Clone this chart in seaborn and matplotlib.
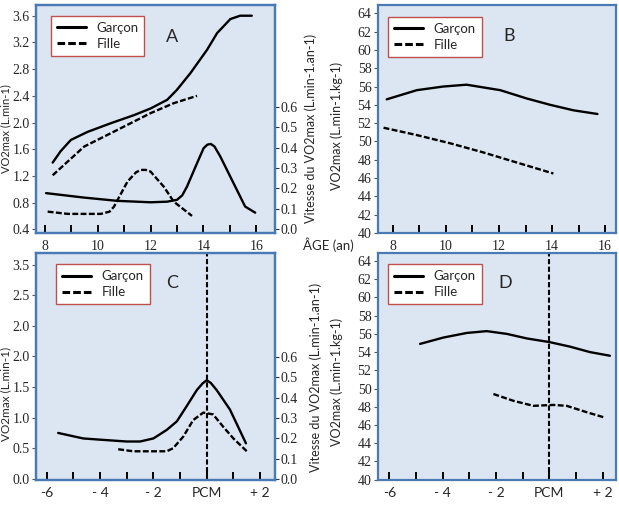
import matplotlib
matplotlib.use("Agg")
import matplotlib.pyplot as plt
import pandas as pd
import seaborn as sns

# A: VO2max absolu (L.min-1) et vitesse selon l'age
a_age_g = [8.3, 8.6, 8.99, 9.62, 10.5, 11.37, 12.0, 12.63, 13.0, 13.51, 14.14, 14.52, 15.02, 15.39, 15.83]
a_vo2_g = [1.40, 1.57, 1.74, 1.86, 1.99, 2.11, 2.21, 2.34, 2.49, 2.74, 3.09, 3.34, 3.55, 3.60, 3.60]
a_age_f = [8.3, 9.49, 10.75, 12.0, 12.88, 13.76]
a_vo2_f = [1.21, 1.64, 1.89, 2.14, 2.29, 2.40]
a_vage_g = [8.05, 9.49, 10.75, 12.0, 12.63, 13.0, 13.2, 13.38, 13.76, 14.01, 14.15, 14.28, 14.42, 14.64, 15.14, 15.58, 15.96]
a_vit_g = [0.176, 0.154, 0.138, 0.131, 0.134, 0.143, 0.165, 0.208, 0.323, 0.397, 0.414, 0.418, 0.405, 0.356, 0.225, 0.11, 0.08]
a_vage_f = [8.11, 8.87, 10.12, 10.45, 10.62, 11.13, 11.45, 11.63, 11.82, 12.0, 12.5, 12.88, 13.57]
a_vit_f = [0.085, 0.074, 0.074, 0.085, 0.11, 0.233, 0.278, 0.29, 0.29, 0.282, 0.208, 0.134, 0.064]

# B: VO2max relatif (L.min-1.kg-1) selon l'age
b_age_g = [7.77, 8.9, 9.9, 10.78, 12.05, 13.04, 13.93, 14.81, 15.71]
b_vo2_g = [54.6, 55.6, 56.0, 56.2, 55.6, 54.7, 54.0, 53.4, 53.0]
b_age_f = [7.65, 8.9, 10.16, 11.41, 12.67, 14.05]
b_vo2_f = [51.5, 50.7, 49.8, 48.8, 47.7, 46.5]

# C: vitesse du VO2max selon le pic de croissance (PCM)
c_t_g = [-5.57, -4.63, -4.0, -3.0, -2.5, -2.0, -1.5, -1.12, -0.76, -0.37, -0.15, 0.0, 0.15, 0.37, 0.87, 1.47]
c_vit_g = [0.226, 0.199, 0.193, 0.184, 0.184, 0.199, 0.241, 0.283, 0.356, 0.437, 0.470, 0.485, 0.472, 0.437, 0.341, 0.175]
c_t_f = [-3.32, -2.76, -1.5, -1.26, -0.88, -0.51, -0.13, 0.24, 0.62, 1.0, 1.55]
c_vit_f = [0.146, 0.136, 0.136, 0.151, 0.208, 0.289, 0.326, 0.317, 0.256, 0.199, 0.130]

# D: VO2max relatif selon le PCM
d_t_g = [-4.85, -3.97, -3.1, -2.35, -1.6, -0.85, 0.0, 0.77, 1.52, 2.27]
d_vo2_g = [54.9, 55.6, 56.1, 56.3, 56.0, 55.5, 55.1, 54.6, 54.0, 53.6]
d_t_f = [-2.1, -1.35, -0.6, 0.15, 0.65, 1.4, 2.09]
d_vo2_f = [49.4, 48.65, 48.1, 48.2, 48.1, 47.4, 46.8]

age_ticks = [8, 10, 12, 14, 16]
pcm_ticks = [-6, -4, -2, 0, 2]
pcm_labels = ["-6", "- 4", "- 2", "PCM", "+ 2"]
a_yticks = [0.4, 0.8, 1.2, 1.6, 2.0, 2.4, 2.8, 3.2, 3.6]
c_yticks = [0.0, 0.5, 1.0, 1.5, 2.0, 2.5, 3.0, 3.5]
c_ylabels = ["0.0", "0.5", "1.0", "1.5", "2.0", "2.0", "2.5", "3.5"]  # as printed
vit_ticks = [0.0, 0.1, 0.2, 0.3, 0.4, 0.5, 0.6]
kg_ticks = list(range(40, 65, 2))

FACE = "#dce6f2"
SPINE = "#4a7ab4"
SANS = "Lato"
DASH = (0, (2.5, 1.0))

sns.set_theme(style="ticks")
plt.rcParams["font.family"] = ["Liberation Serif", "DejaVu Serif"]

fig = plt.figure(figsize=(6.19, 5.09), dpi=100)
ax_a = fig.add_axes([0.0582, 0.5422, 0.3861, 0.4479])
ax_b = fig.add_axes([0.6102, 0.5422, 0.3850, 0.4479])
ax_c = fig.add_axes([0.0582, 0.0570, 0.3861, 0.4460])
ax_d = fig.add_axes([0.6102, 0.0570, 0.3850, 0.4460])


def box(ax):
    ax.set_facecolor(FACE)
    for s in ax.spines.values():
        s.set_visible(True)
        s.set_color(SPINE)
        s.set_linewidth(1.6)
    ax.tick_params(axis="x", which="both", direction="in", length=6, width=1.4,
                   color="black", pad=5, labelsize=10)
    ax.tick_params(axis="y", direction="out", length=3, width=0.8,
                   color="#555555", pad=1.5, labelsize=10)


def curve(ax, x, y, label=None, dashed=False):
    df = pd.DataFrame({"x": x, "y": y})
    sns.lineplot(data=df, x="x", y="y", ax=ax, color="black", lw=1.7,
                 linestyle=DASH if dashed else "-", sort=False,
                 estimator=None, label=label, legend=False)


def legend(ax, x0, y0):
    leg = ax.legend(loc="upper left", bbox_to_anchor=(x0, y0), borderaxespad=0,
                    fancybox=False, framealpha=1, facecolor="white",
                    edgecolor="#c0504d", prop={"family": SANS, "size": 9.5},
                    handlelength=2.2, handletextpad=0.8, borderpad=0.45,
                    labelspacing=0.3)
    leg.get_frame().set_linewidth(1.0)
    for h in leg.get_lines():
        h.set_linewidth(2.2)


def vitesse_axis(ax, ylim):
    tw = ax.twinx()
    tw.set_ylim(*ylim)
    tw.set_yticks(vit_ticks)
    tw.set_yticklabels([f"{v:.1f}" for v in vit_ticks])
    tw.tick_params(axis="y", direction="out", length=3, width=0.8,
                   color="#333333", pad=1, labelsize=10)
    for s in tw.spines.values():
        s.set_color(SPINE)
        s.set_linewidth(1.6)
    tw.set_ylabel("Vitesse du VO2max (L.min-1.an-1)", family=SANS, fontsize=9)
    tw.yaxis.set_label_coords(1.125, 0.46)
    tw.grid(False)
    return tw


# ---- A
box(ax_a)
curve(ax_a, a_age_g, a_vo2_g, "Garçon")
curve(ax_a, a_age_f, a_vo2_f, "Fille", dashed=True)
ax_a.set_xlim(7.67, 16.71)
ax_a.set_ylim(0.345, 3.76)
ax_a.set_xticks(age_ticks)
ax_a.set_xticks(range(9, 17, 2), minor=True)
ax_a.set_yticks(a_yticks)
ax_a.set_yticklabels([f"{v:.1f}" for v in a_yticks])
ax_a.set_xlabel("")
ax_a.set_ylabel("VO2max (L.min-1)", family=SANS, fontsize=8)
ax_a.yaxis.set_label_coords(-0.105, 0.46)
legend(ax_a, 0.062, 0.953)
ax_a.text(0.568, 0.86, "A", transform=ax_a.transAxes, family=SANS,
          fontsize=13, ha="center", va="center")
tw_a = vitesse_axis(ax_a, (-0.02, 1.10))
curve(tw_a, a_vage_g, a_vit_g)
curve(tw_a, a_vage_f, a_vit_f, dashed=True)
tw_a.set_xlabel("")

# ---- B
box(ax_b)
curve(ax_b, b_age_g, b_vo2_g, "Garçon")
curve(ax_b, b_age_f, b_vo2_f, "Fille", dashed=True)
ax_b.set_xlim(7.43, 16.41)
ax_b.set_ylim(40, 64.9)
ax_b.set_xticks(age_ticks)
ax_b.set_xticks(range(9, 17, 2), minor=True)
ax_b.set_yticks(kg_ticks)
ax_b.set_xlabel("")
ax_b.set_ylabel("VO2max (L.min-1.kg-1)", family=SANS, fontsize=9)
ax_b.yaxis.set_label_coords(-0.145, 0.47)
legend(ax_b, 0.043, 0.947)
ax_b.text(0.551, 0.863, "B", transform=ax_b.transAxes, family=SANS,
          fontsize=13, ha="center", va="center")

fig.text(328 / 619, 1 - 245 / 509, "ÂGE (an)", family=SANS, fontsize=9.5,
         ha="center", va="center")

# ---- C
box(ax_c)
ax_c.set_xlim(-6.4, 2.56)
ax_c.set_ylim(-0.016, 3.69)
ax_c.set_xticks(pcm_ticks)
ax_c.set_xticklabels(pcm_labels, family=SANS)
ax_c.set_xticks(range(-5, 3, 2), minor=True)
ax_c.set_yticks(c_yticks)
ax_c.set_yticklabels(c_ylabels)
ax_c.set_ylabel("VO2max (L.min-1)", family=SANS, fontsize=8.5)
ax_c.yaxis.set_label_coords(-0.105, 0.38)
ax_c.axvline(0, color="black", lw=1.5, linestyle=(0, (2.5, 1.2)))
tw_c = vitesse_axis(ax_c, (-0.005, 1.11))
curve(tw_c, c_t_g, c_vit_g, "Garçon")
curve(tw_c, c_t_f, c_vit_f, "Fille", dashed=True)
tw_c.set_xlabel("")
tw_c.yaxis.set_label_coords(1.145, 0.45)
legend(tw_c, 0.084, 0.95)
ax_c.text(0.568, 0.868, "C", transform=ax_c.transAxes, family=SANS,
          fontsize=13, ha="center", va="center")

# ---- D
box(ax_d)
curve(ax_d, d_t_g, d_vo2_g, "Garçon")
curve(ax_d, d_t_f, d_vo2_f, "Fille", dashed=True)
ax_d.axvline(0, color="black", lw=1.5, linestyle=(0, (2.5, 1.2)))
ax_d.set_xlim(-6.44, 2.5)
ax_d.set_ylim(39.96, 64.88)
ax_d.set_xticks(pcm_ticks)
ax_d.set_xticklabels(pcm_labels, family=SANS)
ax_d.set_xticks(range(-5, 3, 2), minor=True)
ax_d.set_yticks(kg_ticks)
ax_d.set_xlabel("")
ax_d.set_ylabel("VO2max (L.min-1.kg-1)", family=SANS, fontsize=9)
ax_d.yaxis.set_label_coords(-0.145, 0.43)
legend(ax_d, 0.043, 0.95)
ax_d.text(0.534, 0.868, "D", transform=ax_d.transAxes, family=SANS,
          fontsize=13, ha="center", va="center")

fig.savefig("out.png", dpi=100)
